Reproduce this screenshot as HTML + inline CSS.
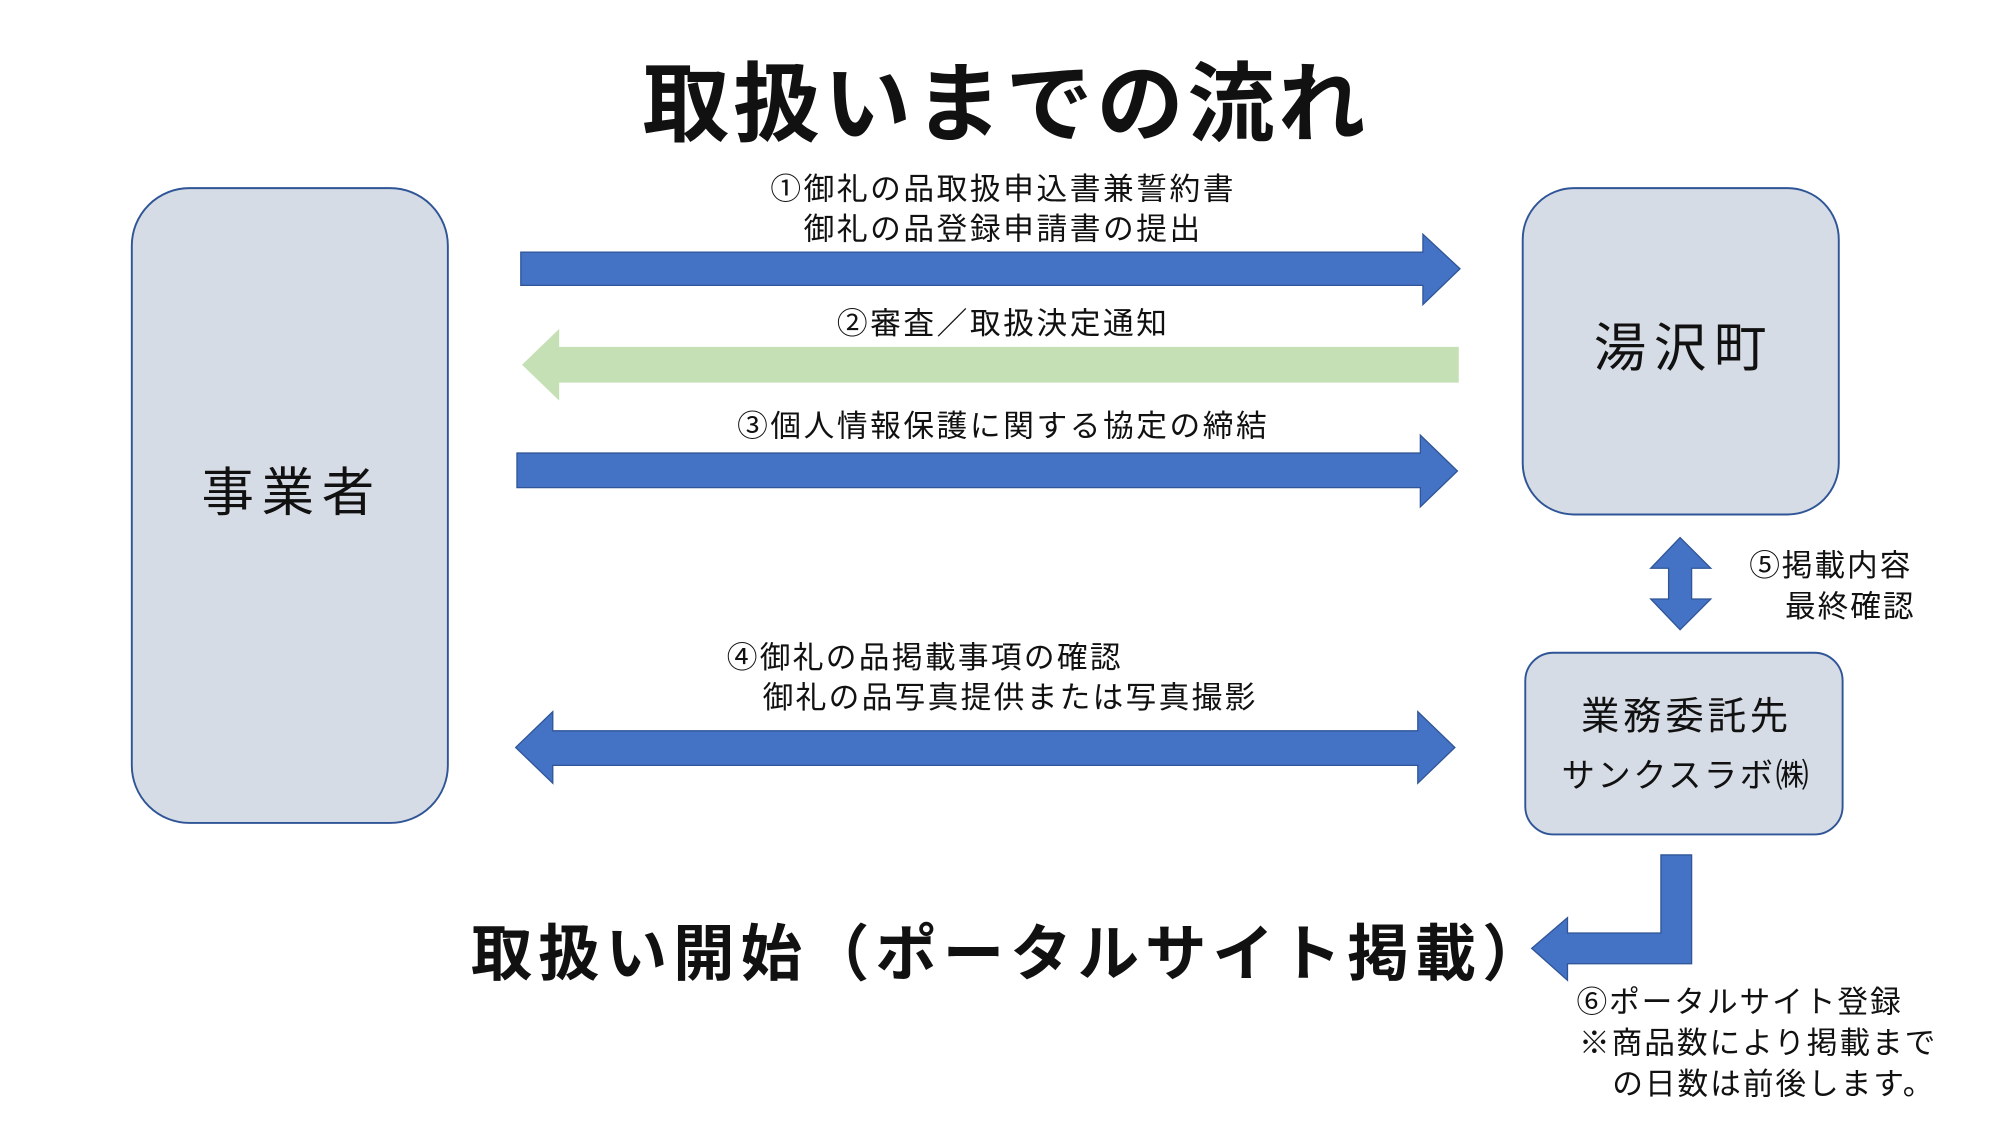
<!DOCTYPE html>
<html><head><meta charset="utf-8"><style>
html,body{margin:0;padding:0;background:#fff;}
svg{display:block;}
text{font-family:"Liberation Sans","Noto Sans CJK JP",sans-serif;fill:#111;}
</style></head><body>
<svg width="2000" height="1125" viewBox="0 0 1563 879" preserveAspectRatio="none" xmlns="http://www.w3.org/2000/svg">
<rect width="1563" height="879" fill="#fff"/>
<text x="786" y="105" font-size="68" font-weight="bold" text-anchor="middle" letter-spacing="3">取扱いまでの流れ</text>

<rect x="103" y="147" width="247" height="496" rx="45" fill="#d6dce5" stroke="#2f5597" stroke-width="1.5"/>
<text x="228" y="399" font-size="41" text-anchor="middle" letter-spacing="6">事業者</text>

<rect x="1190" y="147" width="247" height="255" rx="40" fill="#d6dce5" stroke="#2f5597" stroke-width="1.5"/>
<text x="1316" y="286" font-size="41" text-anchor="middle" letter-spacing="6">湯沢町</text>

<rect x="1192" y="510" width="248" height="142" rx="22" fill="#d6dce5" stroke="#2f5597" stroke-width="1.5"/>
<text x="1318" y="570" font-size="30" text-anchor="middle" letter-spacing="3">業務委託先</text>
<text x="1318" y="615" font-size="26" text-anchor="middle" letter-spacing="2">サンクスラボ㈱</text>

<text x="784" y="156" font-size="24" text-anchor="middle" letter-spacing="2">①御礼の品取扱申込書兼誓約書</text>
<text x="784" y="187" font-size="24" text-anchor="middle" letter-spacing="2">御礼の品登録申請書の提出</text>
<polygon points="407,197 1112,197 1112,183 1141,210 1112,238 1112,223 407,223" fill="#4472c4" stroke="#2f5597" stroke-width="1"/>

<text x="784" y="261" font-size="24" text-anchor="middle" letter-spacing="2">②審査／取扱決定通知</text>
<polygon points="1140,271 437,271 437,257 408,285 437,313 437,299 1140,299" fill="#c5e0b4"/>

<text x="784" y="341" font-size="24" text-anchor="middle" letter-spacing="2">③個人情報保護に関する協定の締結</text>
<polygon points="404,354 1110,354 1110,340 1139,368 1110,396 1110,381 404,381" fill="#4472c4" stroke="#2f5597" stroke-width="1"/>

<text x="568" y="522" font-size="24" letter-spacing="1.8">④御礼の品掲載事項の確認</text>
<text x="596" y="553" font-size="24" letter-spacing="1.8">御礼の品写真提供または写真撮影</text>
<polygon points="403,584 432,556 432,571 1108,571 1108,556 1137,584 1108,612 1108,598 432,598 432,612" fill="#4472c4" stroke="#2f5597" stroke-width="1"/>

<polygon points="1313,420 1337,444 1322,444 1322,468 1337,468 1313,492 1290,468 1304,468 1304,444 1290,444" fill="#4472c4" stroke="#2f5597" stroke-width="1"/>
<text x="1367" y="450" font-size="24" letter-spacing="1.5">⑤掲載内容</text>
<text x="1395" y="482" font-size="24" letter-spacing="1.5">最終確認</text>

<polygon points="1298,668 1322,668 1322,753 1225,753 1225,766 1197,741 1225,717 1225,729 1298,729" fill="#4472c4" stroke="#2f5597" stroke-width="1"/>

<text x="368" y="762" font-size="48" font-weight="bold" letter-spacing="4.7">取扱い開始（ポータルサイト掲載）</text>

<text x="1232" y="791" font-size="24" letter-spacing="1.5">⑥ポータルサイト登録</text>
<text x="1234" y="823" font-size="24" letter-spacing="1.5">※商品数により掲載まで</text>
<text x="1260" y="855" font-size="24" letter-spacing="1.5">の日数は前後します。</text>
</svg>
</body></html>
